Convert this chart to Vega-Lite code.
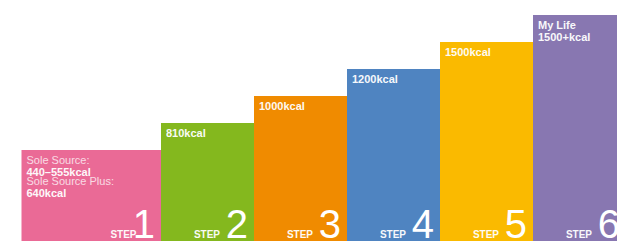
{
  "$schema": "https://vega.github.io/schema/vega-lite/v6.json",
  "width": 617,
  "height": 241,
  "padding": 0,
  "autosize": {"type": "none"},
  "background": "white",
  "config": {"view": {"stroke": null}, "font": "Liberation Sans"},
  "datasets": {
    "bars": [
      {"step": "1", "x0": -0.5, "x1": 1, "level": 1},
      {"step": "2", "x0": 1, "x1": 2, "level": 2},
      {"step": "3", "x0": 2, "x1": 3, "level": 3},
      {"step": "4", "x0": 3, "x1": 4, "level": 4},
      {"step": "5", "x0": 4, "x1": 5, "level": 5},
      {"step": "6", "x0": 5, "x1": 6, "level": 6}
    ],
    "labels": [
      {"step": "1", "line": 1, "weight": "normal", "label": "Sole Source:"},
      {"step": "1", "line": 2, "weight": "bold", "label": "440–555kcal"},
      {"step": "1", "line": 3, "weight": "normal", "label": "Sole Source Plus:"},
      {"step": "1", "line": 4, "weight": "bold", "label": "640kcal"},
      {"step": "2", "line": 1, "weight": "bold", "label": "810kcal"},
      {"step": "3", "line": 1, "weight": "bold", "label": "1000kcal"},
      {"step": "4", "line": 1, "weight": "bold", "label": "1200kcal"},
      {"step": "5", "line": 1, "weight": "bold", "label": "1500kcal"},
      {"step": "6", "line": 1, "weight": "bold", "label": "My Life"},
      {"step": "6", "line": 2, "weight": "bold", "label": "1500+kcal"}
    ]
  },
  "data": {"name": "bars"},
  "layer": [
    {
      "mark": {"type": "bar", "clip": true},
      "encoding": {
        "x": {"field": "x0", "type": "quantitative", "scale": {"domain": [-0.7312, 5.9032], "nice": false, "zero": false}, "axis": null},
        "x2": {"field": "x1"},
        "y": {"field": "level", "type": "quantitative", "scale": {"domain": [-2.3704, 6.5556], "nice": false, "zero": false}, "axis": null},
        "y2": {"datum": -2.3704},
        "color": {"field": "step", "type": "nominal", "scale": {"domain": ["1", "2", "3", "4", "5", "6"], "range": ["#EA6A96", "#84B81E", "#F08B00", "#4F84C1", "#FABA00", "#8877B1"]}, "legend": null}
      }
    },
    {
      "data": {"name": "labels"},
      "transform": [
        {"lookup": "step", "from": {"data": {"name": "bars"}, "key": "step", "fields": ["x0", "level"]}},
        {"filter": "datum.weight == 'normal' && datum.line == 1"}
      ],
      "mark": {"type": "text", "align": "left", "baseline": "alphabetic", "dx": 5, "dy": 14, "fontSize": 11, "fontWeight": "normal", "fill": "white", "opacity": 0.75},
      "encoding": {
        "x": {"field": "x0", "type": "quantitative"},
        "y": {"field": "level", "type": "quantitative"},
        "text": {"field": "label"}
      }
    },
    {
      "data": {"name": "labels"},
      "transform": [
        {"lookup": "step", "from": {"data": {"name": "bars"}, "key": "step", "fields": ["x0", "level"]}},
        {"filter": "datum.weight == 'normal' && datum.line == 3"}
      ],
      "mark": {"type": "text", "align": "left", "baseline": "alphabetic", "dx": 5, "dy": 35.5, "fontSize": 11, "fontWeight": "normal", "fill": "white", "opacity": 0.75},
      "encoding": {
        "x": {"field": "x0", "type": "quantitative"},
        "y": {"field": "level", "type": "quantitative"},
        "text": {"field": "label"}
      }
    },
    {
      "data": {"name": "labels"},
      "transform": [
        {"lookup": "step", "from": {"data": {"name": "bars"}, "key": "step", "fields": ["x0", "level"]}},
        {"filter": "datum.weight == 'bold' && datum.line == 1"}
      ],
      "mark": {"type": "text", "align": "left", "baseline": "alphabetic", "dx": 5, "dy": 13.8, "fontSize": 11, "fontWeight": "bold", "fill": "white", "opacity": 0.95},
      "encoding": {
        "x": {"field": "x0", "type": "quantitative"},
        "y": {"field": "level", "type": "quantitative"},
        "text": {"field": "label"}
      }
    },
    {
      "data": {"name": "labels"},
      "transform": [
        {"lookup": "step", "from": {"data": {"name": "bars"}, "key": "step", "fields": ["x0", "level"]}},
        {"filter": "datum.weight == 'bold' && datum.line == 2"}
      ],
      "mark": {"type": "text", "align": "left", "baseline": "alphabetic", "dx": 5, "dy": 25.6, "fontSize": 11, "fontWeight": "bold", "fill": "white", "opacity": 0.95},
      "encoding": {
        "x": {"field": "x0", "type": "quantitative"},
        "y": {"field": "level", "type": "quantitative"},
        "text": {"field": "label"}
      }
    },
    {
      "data": {"name": "labels"},
      "transform": [
        {"lookup": "step", "from": {"data": {"name": "bars"}, "key": "step", "fields": ["x0", "level"]}},
        {"filter": "datum.weight == 'bold' && datum.line == 4"}
      ],
      "mark": {"type": "text", "align": "left", "baseline": "alphabetic", "dx": 5, "dy": 46.8, "fontSize": 11, "fontWeight": "bold", "fill": "white", "opacity": 0.95},
      "encoding": {
        "x": {"field": "x0", "type": "quantitative"},
        "y": {"field": "level", "type": "quantitative"},
        "text": {"field": "label"}
      }
    },
    {
      "transform": [{"filter": "datum.step != '1'"}],
      "mark": {"type": "text", "align": "right", "baseline": "alphabetic", "dx": -34, "dy": -3.5, "fontSize": 10, "fontWeight": "bold", "fill": "white", "opacity": 0.95},
      "encoding": {
        "x": {"field": "x1", "type": "quantitative"},
        "y": {"datum": -2.3704, "type": "quantitative"},
        "text": {"value": "STEP"}
      }
    },
    {
      "transform": [{"filter": "datum.step == '1'"}],
      "mark": {"type": "text", "align": "right", "baseline": "alphabetic", "dx": -24.5, "dy": -3.5, "fontSize": 10, "fontWeight": "bold", "fill": "white", "opacity": 0.95},
      "encoding": {
        "x": {"field": "x1", "type": "quantitative"},
        "y": {"datum": -2.3704, "type": "quantitative"},
        "text": {"value": "STEP"}
      }
    },
    {
      "mark": {"type": "text", "align": "right", "baseline": "alphabetic", "dx": -6, "dy": -3.5, "fontSize": 40, "fontWeight": "normal", "fill": "white"},
      "encoding": {
        "x": {"field": "x1", "type": "quantitative"},
        "y": {"datum": -2.3704, "type": "quantitative"},
        "text": {"field": "step"}
      }
    }
  ]
}
